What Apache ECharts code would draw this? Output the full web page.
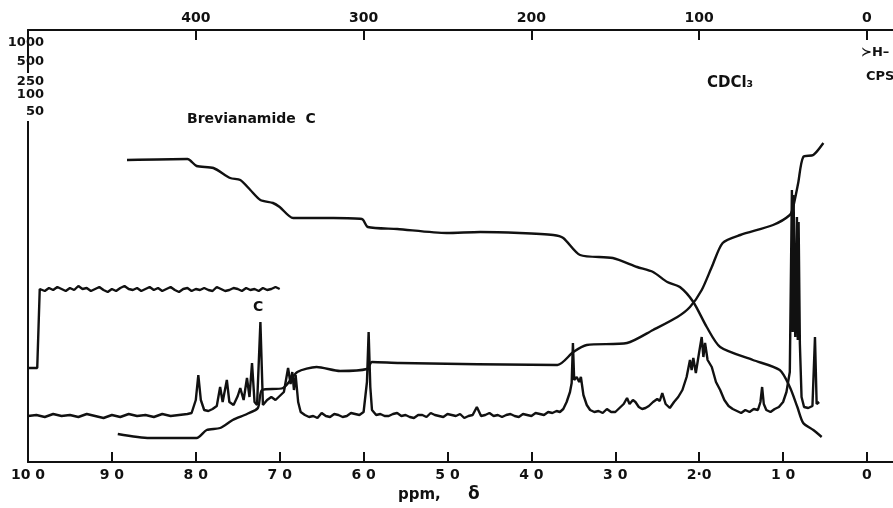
<!DOCTYPE html>
<html>
<head>
<meta charset="utf-8">
<title>Brevianamide C NMR</title>
<script src="https://cdn.jsdelivr.net/npm/echarts@6/dist/echarts.min.js"></script>
<style>
  html, body { margin: 0; padding: 0; background: #fff; }
  #chart { width: 893px; height: 508px; }
</style>
</head>
<body>
<div id="chart"></div>
<script>
// ppm scale (bottom) and cps scale (top)
const ppmTicks = [10, 9, 8, 7, 6, 5, 4, 3, 2, 1, 0]
const ppmTickLabels = ['10 0', '9 0', '8 0', '7 0', '6 0', '5 0', '4 0', '3 0', '2·0', '1 0', '0']
const cpsTicks = [400, 300, 200, 100, 0]
const gainLabels = ['1000', '500', '250', '100', '50']

// main spectrum trace [ppm, intensity]
const spectrum = [
  [10.00, 46], [9.90, 47], [9.80, 45], [9.70, 48], [9.60, 46], [9.50, 47], [9.40, 45], [9.30, 48],
  [9.20, 46], [9.10, 44], [9.00, 47], [8.90, 45], [8.80, 48], [8.70, 46], [8.60, 47], [8.50, 45],
  [8.40, 48], [8.30, 46], [8.20, 47], [8.10, 48], [8.05, 49], [8.00, 62], [7.97, 87], [7.94, 62],
  [7.90, 52], [7.85, 51], [7.80, 53], [7.75, 56], [7.71, 75], [7.68, 60], [7.63, 82], [7.60, 60],
  [7.55, 57], [7.50, 66], [7.47, 74], [7.43, 62], [7.39, 84], [7.36, 65], [7.33, 99], [7.30, 60],
  [7.27, 57], [7.23, 140], [7.20, 57], [7.15, 62], [7.10, 65], [7.05, 62], [7.00, 66], [6.95, 70],
  [6.90, 94], [6.87, 78], [6.85, 90], [6.83, 72], [6.81, 87], [6.78, 60], [6.75, 50], [6.70, 47],
  [6.65, 45], [6.60, 46], [6.55, 44], [6.50, 49], [6.45, 46], [6.40, 45], [6.35, 48], [6.30, 47],
  [6.25, 45], [6.20, 46], [6.15, 49], [6.10, 48], [6.05, 47], [6.00, 50], [5.96, 80], [5.94, 130],
  [5.92, 75], [5.90, 52], [5.85, 47], [5.80, 48], [5.75, 46], [5.70, 46], [5.65, 48], [5.60, 49],
  [5.55, 46], [5.50, 47], [5.45, 45], [5.40, 44], [5.35, 47], [5.30, 47], [5.25, 45], [5.20, 49],
  [5.15, 47], [5.10, 46], [5.05, 45], [5.00, 48], [4.95, 47], [4.90, 46], [4.85, 48], [4.80, 44],
  [4.75, 46], [4.70, 47], [4.65, 55], [4.60, 46], [4.55, 47], [4.50, 49], [4.45, 46], [4.40, 47],
  [4.35, 45], [4.30, 47], [4.25, 48], [4.20, 46], [4.15, 45], [4.10, 48], [4.05, 47], [4.00, 46],
  [3.95, 49], [3.90, 48], [3.85, 47], [3.80, 50], [3.75, 49], [3.70, 51], [3.66, 50], [3.62, 53],
  [3.58, 60], [3.54, 70], [3.52, 79], [3.505, 119], [3.49, 82], [3.46, 85], [3.43, 80], [3.41, 85],
  [3.38, 67], [3.34, 57], [3.30, 52], [3.25, 50], [3.20, 51], [3.15, 49], [3.10, 53], [3.05, 50],
  [3.00, 50], [2.95, 54], [2.90, 58], [2.86, 64], [2.83, 58], [2.79, 62], [2.76, 60], [2.72, 55],
  [2.68, 53], [2.64, 54], [2.60, 56], [2.55, 60], [2.50, 63], [2.47, 61], [2.44, 69], [2.40, 58],
  [2.35, 54], [2.30, 60], [2.25, 65], [2.20, 72], [2.15, 85], [2.11, 102], [2.09, 92], [2.07, 104],
  [2.04, 89], [2.00, 110], [1.97, 125], [1.95, 105], [1.93, 119], [1.90, 102], [1.85, 95], [1.80, 80],
  [1.75, 72], [1.70, 62], [1.65, 56], [1.60, 53], [1.55, 51], [1.50, 49], [1.45, 52], [1.40, 50],
  [1.35, 53], [1.30, 52], [1.27, 60], [1.25, 75], [1.23, 58], [1.20, 52], [1.15, 50], [1.10, 53],
  [1.05, 55], [1.00, 60], [0.96, 70], [0.92, 90], [0.895, 272], [0.885, 130], [0.875, 267],
  [0.855, 125], [0.835, 245], [0.825, 122], [0.815, 240], [0.80, 118], [0.78, 65], [0.75, 55],
  [0.70, 54], [0.65, 56], [0.62, 125], [0.60, 58], [0.57, 60]
]

// offset sweep, upper left
const offsetTrace = [
  [10.00, 94], [9.89, 94], [9.86, 173], [9.80, 171], [9.75, 174], [9.70, 172], [9.65, 175], [9.60, 173],
  [9.55, 171], [9.50, 174], [9.45, 172], [9.40, 176], [9.35, 173], [9.30, 174], [9.25, 171], [9.20, 173],
  [9.15, 175], [9.10, 172], [9.05, 170], [9.00, 173], [8.95, 171], [8.90, 174], [8.85, 176], [8.80, 173],
  [8.75, 172], [8.70, 174], [8.65, 171], [8.60, 173], [8.55, 175], [8.50, 172], [8.45, 174], [8.40, 171],
  [8.35, 173], [8.30, 175], [8.25, 172], [8.20, 170], [8.15, 173], [8.10, 174], [8.05, 171], [8.00, 173],
  [7.95, 172], [7.90, 174], [7.85, 172], [7.80, 171], [7.75, 175], [7.70, 173], [7.65, 171], [7.60, 172],
  [7.55, 174], [7.50, 173], [7.45, 171], [7.40, 174], [7.35, 172], [7.30, 173], [7.25, 171], [7.20, 174],
  [7.15, 172], [7.10, 173], [7.05, 175], [7.00, 173]
]

// integral traces
const integralDown = [
  [8.82, 302], [8.10, 303], [7.99, 296], [7.79, 294], [7.59, 284], [7.47, 282], [7.35, 272], [7.23, 262],
  [7.08, 259], [7.00, 255], [6.84, 244], [6.36, 244], [6.02, 243], [5.95, 235], [5.60, 233], [5.01, 229],
  [4.61, 230], [4.14, 229], [3.74, 227], [3.62, 224], [3.42, 207], [3.03, 204], [2.74, 195], [2.55, 190],
  [2.38, 180], [2.23, 175], [2.07, 160], [1.91, 135], [1.75, 115], [1.36, 102], [1.04, 92], [0.92, 75],
  [0.83, 55], [0.76, 39], [0.64, 32], [0.54, 25]
]
const integralUp = [
  [8.93, 28], [8.55, 24], [7.99, 24], [7.87, 32], [7.71, 34], [7.56, 42], [7.39, 48], [7.26, 54],
  [7.21, 72], [6.96, 74], [6.79, 90], [6.56, 95], [6.28, 91], [5.96, 93], [5.90, 100], [5.57, 99],
  [3.69, 97], [3.50, 110], [3.34, 117], [2.86, 119], [2.55, 132], [2.26, 145], [2.11, 155], [1.97, 172],
  [1.85, 195], [1.72, 219], [1.51, 227], [1.12, 237], [0.92, 247], [0.88, 255], [0.82, 279], [0.76, 305],
  [0.64, 307], [0.52, 319]
]

const ink = '#111'
const font = 'DejaVu Sans'

function trace(data, smooth) {
  return {
    type: 'line',
    data: data,
    showSymbol: false,
    symbol: 'none',
    smooth: smooth || false,
    lineStyle: { color: ink, width: 2.4 },
    silent: true
  }
}

const chart = echarts.init(document.getElementById('chart'))

chart.setOption({
  animation: false,
  backgroundColor: '#fff',
  grid: { left: 28, right: 0, top: 30, bottom: 46 },
  xAxis: [{
    type: 'value',
    position: 'bottom',
    inverse: true,
    min: -0.31,
    max: 10,
    splitLine: { show: false },
    axisLine: { onZero: false, lineStyle: { color: ink, width: 2 } },
    axisTick: { inside: true, length: 10, customValues: ppmTicks, lineStyle: { color: ink, width: 2 } },
    axisLabel: {
      customValues: ppmTicks,
      margin: 6,
      color: ink,
      fontFamily: font,
      fontWeight: 'bold',
      fontSize: 14,
      formatter: v => ppmTickLabels[ppmTicks.indexOf(v)]
    }
  }, {
    type: 'value',
    position: 'top',
    inverse: true,
    min: -15.5,
    max: 500,
    splitLine: { show: false },
    axisLine: { onZero: false, lineStyle: { color: ink, width: 2 } },
    axisTick: { inside: true, length: 10, customValues: cpsTicks, lineStyle: { color: ink, width: 2 } },
    axisLabel: {
      customValues: cpsTicks,
      margin: 5,
      color: ink,
      fontFamily: font,
      fontWeight: 'bold',
      fontSize: 14
    }
  }],
  yAxis: {
    type: 'value',
    position: 'left',
    min: 0,
    max: 432,
    splitLine: { show: false },
    axisLine: { show: true, onZero: false, lineStyle: { color: ink, width: 2 } },
    axisTick: { show: false },
    axisLabel: { show: false }
  },
  graphic: [
    // gain settings on the left edge
    ...gainLabels.map((t, i) => ({
      type: 'text',
      right: 893 - 44,
      top: [36, 55, 73, 86, 103][i],
      z: 100,
      style: {
        text: t,
        fill: ink,
        font: 'bold 13px ' + font,
        backgroundColor: i > 1 ? '#fff' : 'transparent',
        padding: i > 1 ? [2, 0, 3, 0] : 0
      }
    })),
    {
      type: 'text', left: 187, top: 112,
      style: { text: 'Brevianamide  C', fill: ink, font: 'bold 14px ' + font }
    },
    {
      type: 'text', left: 707, top: 76,
      style: { text: 'CDCl₃', fill: ink, font: 'bold 15px ' + font }
    },
    {
      type: 'text', left: 253, top: 300,
      style: { text: 'C', fill: ink, font: 'bold 14px ' + font }
    },
    {
      type: 'text', left: 861, top: 46,
      style: { text: '≻H–', fill: ink, font: 'bold 13px ' + font }
    },
    {
      type: 'text', left: 866, top: 70,
      style: { text: 'CPS', fill: ink, font: 'bold 13px ' + font }
    },
    {
      type: 'text', left: 398, top: 488,
      style: { text: 'ppm,', fill: ink, font: 'bold 15px ' + font }
    },
    {
      type: 'text', left: 468, top: 486,
      style: { text: 'δ', fill: ink, font: 'bold 17px ' + font }
    }
  ],
  series: [
    trace(spectrum),
    trace(offsetTrace),
    trace(integralDown, 0.25),
    trace(integralUp, 0.25)
  ]
})
</script>
</body>
</html>
